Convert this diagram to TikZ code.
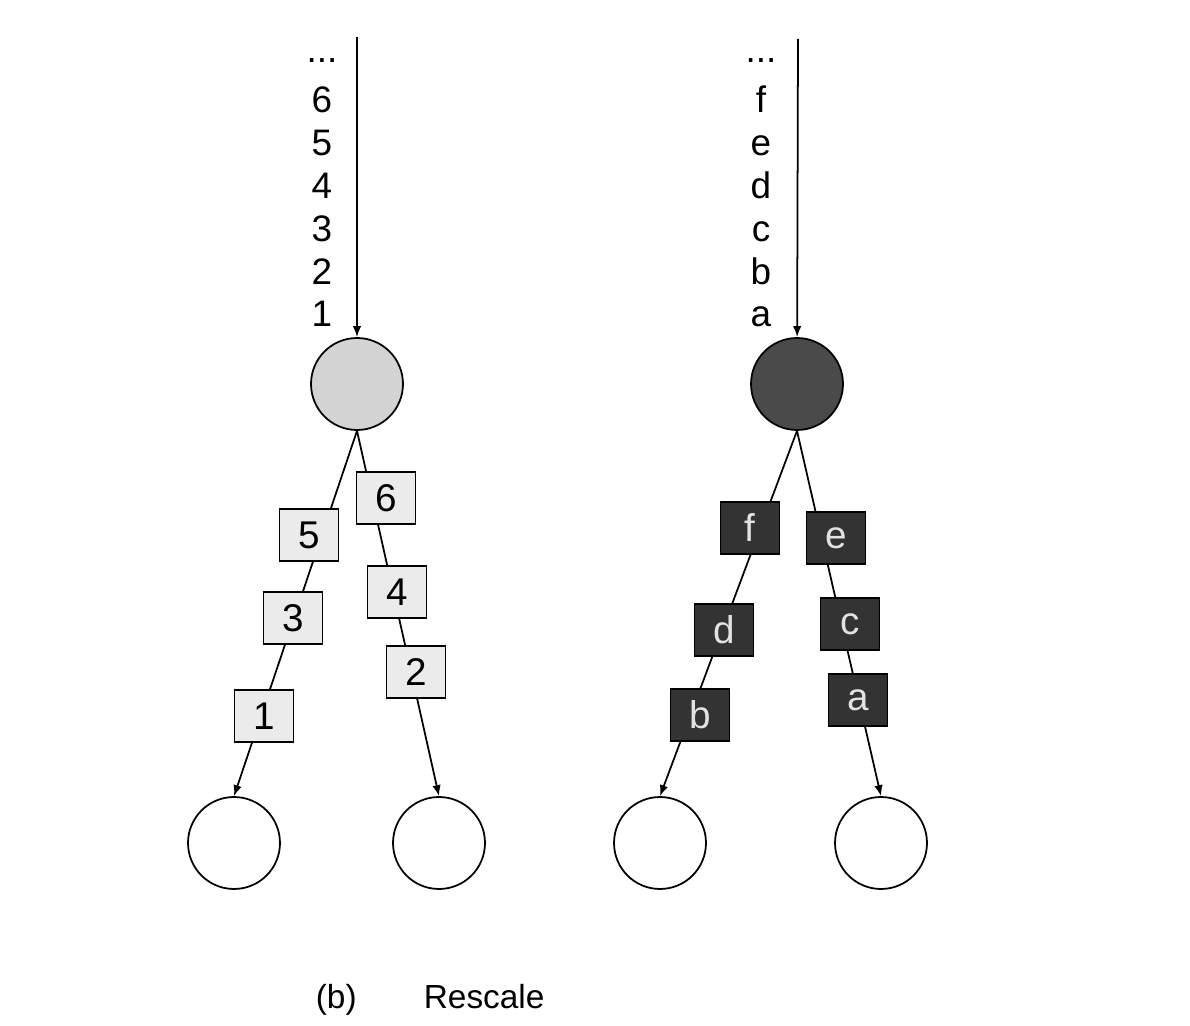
\documentclass[tikz,border=0pt]{standalone}
\usepackage{fontspec}
\setmainfont{Liberation Sans}
\usepackage{xcolor}
\usepackage{tikz}
\usetikzlibrary{arrows.meta}

\definecolor{oplight}{HTML}{D3D3D3}
\definecolor{opdark}{HTML}{4A4A4A}
\definecolor{itemlight}{HTML}{EBEBEB}
\definecolor{itemdark}{HTML}{333333}
\definecolor{itemtext}{HTML}{E2E2E2}

\begin{document}
\begin{tikzpicture}[x=0.02cm,y=-0.02cm,line width=1pt,>={Latex[length=2.2mm,width=1.7mm]}]
	\tikzstyle{op}=[circle,draw=black,minimum size=1.84cm,inner sep=0pt]
	\tikzstyle{item}=[draw=black,fill=itemlight,minimum width=1.18cm,minimum height=1.04cm,inner sep=0pt,font=\fontsize{22}{24}\selectfont]
	\tikzstyle{itemd}=[item,fill=itemdark,text=itemtext]
	\tikzstyle{lbl}=[anchor=base,inner sep=0pt,font=\fontsize{21}{24}\selectfont]
	\useasboundingbox (0,0) rectangle (1190,1026);
	% operators
	\node[op,fill=oplight](opl) at (357,384) {};
	\node[op,fill=opdark](opr) at (797,384) {};
	\node[op](outa) at (234,843) {};
	\node[op](outb) at (439,843) {};
	\node[op](outc) at (660,843) {};
	\node[op](outd) at (881,843) {};
	% input streams
	\coordinate (inl) at (357,37);
	\coordinate (inr) at (798,39);
	\draw[->](inl) -- (opl);
	\draw[->](inr) -- (opr);
	\foreach \v [count=\i] in {1,2,3,4,5,6}
		\node[lbl](inl\i) at (322,{327-42.8*(\i-1)}) {\v};
	\foreach \v [count=\i] in {a,b,c,d,e,f}
		\node[lbl](inr\i) at (761,{327-42.8*(\i-1)}) {\v};
	\node[lbl](inldots) at (322,63) {...};
	\node[lbl](inrdots) at (761,63) {...};
	% output streams
	\draw[->](opl.south) -- (outa.north);
	\draw[->](opl.south) -- (outb.north);
	\draw[->](opr.south) -- (outc.north);
	\draw[->](opr.south) -- (outd.north);
	\node[item](i5) at (309,535) {5};
	\node[item](i3) at (293,618) {3};
	\node[item](i1) at (264,716) {1};
	\node[item](i6) at (386,498) {6};
	\node[item](i4) at (397,592) {4};
	\node[item](i2) at (416,672) {2};
	\node[itemd](if) at (750,528) {f};
	\node[itemd](id) at (724,630) {d};
	\node[itemd](ib) at (700,715) {b};
	\node[itemd](ie) at (836,538) {e};
	\node[itemd](ic) at (850,624) {c};
	\node[itemd](ia) at (858,700) {a};
	% caption
	\node[lbl,anchor=base west,font=\fontsize{19}{22}\selectfont](capb) at (315,1008) {(b)};
	\node[lbl,anchor=base west,font=\fontsize{19}{22}\selectfont](capr) at (423,1008) {Rescale};
\end{tikzpicture}
\end{document}
